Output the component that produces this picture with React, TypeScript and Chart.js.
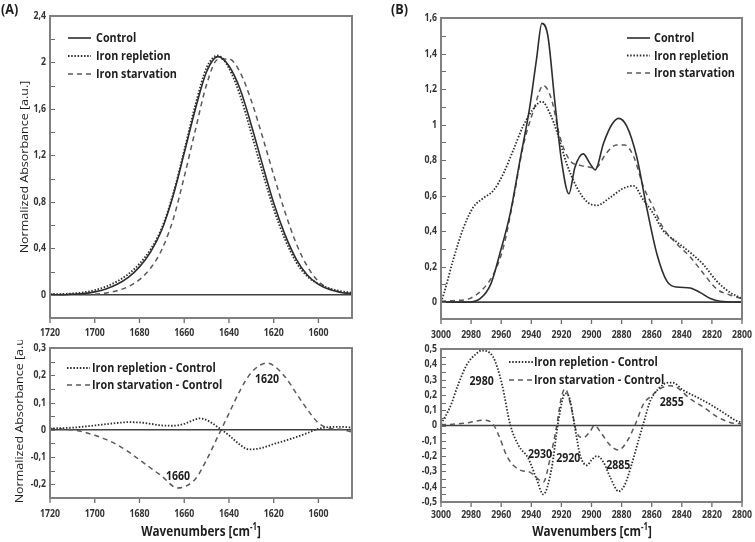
import React, { useEffect, useRef } from "react";
import { Chart, registerables } from "chart.js";
Chart.register(...registerables);

// ---------------- DATA ----------------
// Panel A (amide I region), wavenumbers in cm-1
const A_WN = [1720, 1715, 1710, 1705, 1700, 1695, 1690, 1685, 1680, 1675, 1670, 1665, 1660, 1655, 1650, 1645, 1640, 1635, 1630, 1625, 1620, 1615, 1610, 1605, 1600, 1595, 1590, 1585];
const A_CONTROL = [0, 0, 0.005, 0.01, 0.025, 0.05, 0.09, 0.15, 0.24, 0.37, 0.56, 0.85, 1.22, 1.6, 1.92, 2.05, 1.97, 1.77, 1.46, 1.12, 0.79, 0.52, 0.31, 0.17, 0.09, 0.045, 0.02, 0.01];
const A_REPLETION = [0.005, 0.006, 0.012, 0.02, 0.04, 0.07, 0.115, 0.178, 0.267, 0.392, 0.576, 0.865, 1.242, 1.635, 1.955, 2.06, 1.95, 1.715, 1.39, 1.054, 0.738, 0.48, 0.283, 0.158, 0.094, 0.055, 0.031, 0.018];
const A_STARVATION = [0.005, 0.003, 0.005, 0.002, 0.005, 0.015, 0.035, 0.07, 0.13, 0.23, 0.39, 0.645, 1.015, 1.42, 1.81, 2.025, 2.03, 1.915, 1.67, 1.36, 1.03, 0.715, 0.445, 0.245, 0.115, 0.05, 0.022, 0.005];

const A_DIFF_REP_WN = [1720, 1710, 1700, 1690, 1685, 1680, 1675, 1670, 1665, 1660, 1656, 1653, 1649, 1645, 1640, 1635, 1631, 1625, 1620, 1615, 1610, 1605, 1600, 1595, 1590, 1585];
const A_DIFF_REP = [0.005, 0.008, 0.016, 0.025, 0.028, 0.027, 0.022, 0.016, 0.015, 0.022, 0.035, 0.042, 0.032, 0.01, -0.02, -0.055, -0.072, -0.066, -0.052, -0.04, -0.027, -0.012, 0.004, 0.01, 0.011, 0.008];
const A_DIFF_STARV_WN = [1720, 1715, 1710, 1705, 1700, 1695, 1690, 1685, 1680, 1675, 1670, 1663, 1655, 1650, 1645, 1640, 1635, 1630, 1623, 1615, 1610, 1605, 1600, 1595, 1590, 1585];
const A_DIFF_STARV = [0.005, 0.003, 0, -0.008, -0.02, -0.035, -0.055, -0.08, -0.11, -0.14, -0.17, -0.213, -0.18, -0.11, -0.025, 0.06, 0.145, 0.21, 0.245, 0.195, 0.135, 0.075, 0.025, 0.005, 0.002, -0.008];

// Panel B (lipid CH region)
const B_CONTROL_WN = [3000, 2983, 2974, 2967, 2961, 2954, 2947.5, 2941, 2936.5, 2933, 2929, 2924.5, 2920, 2915, 2911, 2905.5, 2901, 2897.5, 2892, 2886.5, 2882, 2876.5, 2870, 2863.5, 2856.5, 2850, 2843.5, 2834.5, 2828, 2821, 2814.5, 2800];
const B_CONTROL = [0, 0, 0.02, 0.1, 0.27, 0.5, 0.8, 1.1, 1.37, 1.57, 1.5, 1.14, 0.8, 0.61, 0.76, 0.835, 0.78, 0.745, 0.895, 1.0, 1.035, 0.99, 0.82, 0.54, 0.27, 0.12, 0.085, 0.08, 0.055, 0.02, 0.005, 0];
const B_REPLETION_WN = [3000, 2998, 2992, 2985, 2978.5, 2972, 2965, 2958.5, 2952, 2945.5, 2938.5, 2933, 2927.5, 2923, 2916.5, 2910, 2903, 2896.5, 2887.5, 2879, 2872, 2865.5, 2859, 2852.5, 2843.5, 2834.5, 2825.5, 2817, 2808, 2800];
const B_REPLETION = [0, 0.05, 0.235, 0.42, 0.535, 0.585, 0.63, 0.725, 0.855, 0.99, 1.09, 1.13, 1.06, 0.96, 0.78, 0.65, 0.565, 0.545, 0.59, 0.64, 0.655, 0.575, 0.5, 0.405, 0.34, 0.28, 0.21, 0.12, 0.055, 0.02];
const B_STARVATION_WN = [3000, 2989.5, 2981, 2972, 2965, 2958.5, 2952, 2945.5, 2938.5, 2932, 2926.5, 2921, 2914.5, 2907.5, 2901, 2897.5, 2890, 2883.5, 2878, 2872, 2865.5, 2859, 2852.5, 2843.5, 2834.5, 2825.5, 2817, 2808, 2800];
const B_STARVATION = [0.005, 0.01, 0.02, 0.075, 0.16, 0.31, 0.575, 0.875, 1.08, 1.22, 1.14, 0.93, 0.8, 0.77, 0.76, 0.755, 0.84, 0.885, 0.885, 0.82, 0.65, 0.535, 0.42, 0.33, 0.255, 0.16, 0.075, 0.04, 0.02];

const B_DIFF_REP_WN = [3000, 2994, 2988.5, 2983, 2976.5, 2973, 2965.5, 2959.5, 2954, 2948.5, 2942, 2936.5, 2932, 2926.5, 2922, 2917.5, 2914.5, 2911, 2907.5, 2903, 2900, 2896.5, 2892, 2887.5, 2882, 2878, 2873.5, 2869, 2865, 2861, 2855.5, 2849, 2846, 2839, 2830, 2821.5, 2812.5, 2803.5, 2800];
const B_DIFF_REP = [0.01, 0.12, 0.27, 0.395, 0.47, 0.49, 0.45, 0.27, 0.005, -0.13, -0.215, -0.35, -0.45, -0.28, 0.03, 0.21, 0.175, -0.015, -0.195, -0.26, -0.225, -0.2, -0.24, -0.34, -0.43, -0.39, -0.26, -0.105, 0.03, 0.16, 0.24, 0.28, 0.28, 0.23, 0.185, 0.14, 0.085, 0.03, 0.02];
const B_DIFF_STARV_WN = [3000, 2989.5, 2981, 2972, 2965.5, 2961, 2956.5, 2952, 2946.5, 2941, 2935.5, 2932, 2927.5, 2923, 2920, 2917.5, 2913.5, 2910, 2905.5, 2901, 2898, 2893.5, 2888, 2882, 2876.5, 2871, 2865.5, 2860, 2854.5, 2848, 2843.5, 2834.5, 2825.5, 2817, 2808, 2800];
const B_DIFF_STARV = [0.005, 0.01, 0.02, 0.035, 0.01, -0.08, -0.195, -0.26, -0.295, -0.305, -0.35, -0.37, -0.215, 0.005, 0.185, 0.24, 0.12, -0.04, -0.08, -0.04, 0.0, -0.05, -0.125, -0.16, -0.105, 0.005, 0.14, 0.195, 0.24, 0.26, 0.25, 0.175, 0.12, 0.06, 0.02, 0.01];

// Tick labels
const A_X_TICKS = [1720, 1700, 1680, 1660, 1640, 1620, 1600];
const B_X_TICKS = [3000, 2980, 2960, 2940, 2920, 2900, 2880, 2860, 2840, 2820, 2800];
const A_TOP_Y_TICKS = [0, 0.4, 0.8, 1.2, 1.6, 2, 2.4];
const A_BOT_Y_TICKS = [-0.2, -0.1, 0, 0.1, 0.2, 0.3];
const B_TOP_Y_TICKS = [0, 0.2, 0.4, 0.6, 0.8, 1, 1.2, 1.4, 1.6];
const B_BOT_Y_TICKS = [-0.5, -0.4, -0.3, -0.2, -0.1, 0, 0.1, 0.2, 0.3, 0.4, 0.5];

// Peak annotations [text, wavenumber, value]
const A_NOTES: [string, number, number][] = [["1660", 1662.8, -0.17], ["1620", 1623, 0.183]];
const B_NOTES: [string, number, number][] = [["2980", 2973, 0.29], ["2930", 2934.2, -0.19], ["2920", 2915.4, -0.215], ["2885", 2882.2, -0.265], ["2855", 2846.7, 0.15]];

const Y_TITLE = "Normalized Absorbance [a.u.]";

// ---------------- STYLE ----------------
const FONT = "'Open Sans', 'Noto Sans', sans-serif";
const SQUEEZE = 0.83; // horizontal text compression seen in the reference
const STYLES: Record<string, { color: string; width: number; dash: number[] }> = {
  solid: { color: "#2e2e2e", width: 1.6, dash: [] },
  dotted: { color: "#2e2e2e", width: 1.8, dash: [1.5, 1.7] },
  dashed: { color: "#5a5a5a", width: 1.5, dash: [5, 4] },
};

type Series = { label: string; wn: number[]; values: number[]; style: string };
type Panel = {
  left: number; top: number; width: number; height: number;
  padL: number; padR: number; padT: number; padB: number;
  xMin: number; xMax: number; xTicks: number[]; xLabelOff: number;
  yMin: number; yMax: number; yTicks: number[]; yMinor: number;
  yTitlePos?: [number, number];
  series: Series[];
  legend: { x: number; y: number; sampleW: number; gap: number; rowH: number };
  notes: [string, number, number][];
};

const PANELS: Panel[] = [
  {
    left: 0, top: 0, width: 370, height: 340, padL: 50, padR: 18, padT: 16, padB: 22,
    xMin: 1585, xMax: 1720, xTicks: A_X_TICKS, xLabelOff: 15,
    yMin: -0.2, yMax: 2.4, yTicks: A_TOP_Y_TICKS, yMinor: 0.2,
    yTitlePos: [25, 167],
    series: [
      { label: "Control", wn: A_WN, values: A_CONTROL, style: "solid" },
      { label: "Iron repletion", wn: A_WN, values: A_REPLETION, style: "dotted" },
      { label: "Iron starvation", wn: A_WN, values: A_STARVATION, style: "dashed" },
    ],
    legend: { x: 18, y: 22, sampleW: 23, gap: 5, rowH: 18 },
    notes: [],
  },
  {
    left: 0, top: 340, width: 370, height: 202, padL: 50, padR: 18, padT: 8, padB: 44,
    xMin: 1585, xMax: 1720, xTicks: A_X_TICKS, xLabelOff: 16.5,
    yMin: -0.25, yMax: 0.3, yTicks: A_BOT_Y_TICKS, yMinor: 0.05,
    yTitlePos: [19.5, 77],
    series: [
      { label: "Iron repletion - Control", wn: A_DIFF_REP_WN, values: A_DIFF_REP, style: "dotted" },
      { label: "Iron starvation - Control", wn: A_DIFF_STARV_WN, values: A_DIFF_STARV, style: "dashed" },
    ],
    legend: { x: 17, y: 20, sampleW: 23, gap: 2, rowH: 17 },
    notes: A_NOTES,
  },
  {
    left: 370, top: 0, width: 385, height: 340, padL: 71, padR: 13, padT: 18, padB: 21,
    xMin: 2800, xMax: 3000, xTicks: B_X_TICKS, xLabelOff: 16,
    yMin: -0.095, yMax: 1.6, yTicks: B_TOP_Y_TICKS, yMinor: 0.1,
    series: [
      { label: "Control", wn: B_CONTROL_WN, values: B_CONTROL, style: "solid" },
      { label: "Iron repletion", wn: B_REPLETION_WN, values: B_REPLETION, style: "dotted" },
      { label: "Iron starvation", wn: B_STARVATION_WN, values: B_STARVATION, style: "dashed" },
    ],
    legend: { x: 186, y: 20, sampleW: 23, gap: 4, rowH: 17.5 },
    notes: [],
  },
  {
    left: 370, top: 340, width: 385, height: 202, padL: 71, padR: 13, padT: 9, padB: 40,
    xMin: 2800, xMax: 3000, xTicks: B_X_TICKS, xLabelOff: 13,
    yMin: -0.5, yMax: 0.5, yTicks: B_BOT_Y_TICKS, yMinor: 0.05,
    series: [
      { label: "Iron repletion - Control", wn: B_DIFF_REP_WN, values: B_DIFF_REP, style: "dotted" },
      { label: "Iron starvation - Control", wn: B_DIFF_STARV_WN, values: B_DIFF_STARV, style: "dashed" },
    ],
    legend: { x: 68, y: 13, sampleW: 24, gap: 1, rowH: 18 },
    notes: B_NOTES,
  },
];

const fmt = (v: number) => String(v).replace(".", ",");

function txt(ctx: CanvasRenderingContext2D, s: string, x: number, y: number, font: string, align: CanvasTextAlign, color: string, sx = SQUEEZE) {
  ctx.save();
  ctx.translate(x, y);
  ctx.scale(sx, 1);
  ctx.font = font;
  ctx.textAlign = align;
  ctx.textBaseline = "middle";
  ctx.fillStyle = color;
  ctx.fillText(s, 0, 0);
  ctx.restore();
}

const decoPlugin = {
  id: "panelDeco",
  beforeDatasetsDraw(chart: any) {
    const { ctx, chartArea: a, scales } = chart;
    const y0 = scales.y.getPixelForValue(0);
    ctx.save();
    ctx.strokeStyle = "#404040";
    ctx.lineWidth = 1.6;
    ctx.beginPath();
    ctx.moveTo(a.left, y0);
    ctx.lineTo(a.right, y0);
    ctx.stroke();
    ctx.restore();
  },
  afterDraw(chart: any, _a: any, opts: any) {
    const p: Panel = opts.panel;
    const { ctx, chartArea: a, scales } = chart;
    ctx.save();
    // inner ticks on the y axis
    ctx.strokeStyle = "#6a6a6a";
    ctx.lineWidth = 1;
    const start = Math.ceil(p.yMin / p.yMinor - 1e-6);
    const end = Math.floor(p.yMax / p.yMinor + 1e-6);
    for (let i = start; i <= end; i++) {
      const y = Math.round(scales.y.getPixelForValue(i * p.yMinor)) + 0.5;
      ctx.beginPath();
      ctx.moveTo(a.left, y);
      ctx.lineTo(a.left + 5, y);
      ctx.stroke();
    }
    // x ticks outside
    ctx.lineWidth = 1.3;
    for (const t of p.xTicks) {
      const x = scales.x.getPixelForValue(t);
      ctx.beginPath();
      ctx.moveTo(x, a.bottom);
      ctx.lineTo(x, a.bottom + 5);
      ctx.stroke();
    }
    // frame
    ctx.strokeStyle = "#808080";
    ctx.lineWidth = 2;
    ctx.strokeRect(a.left, a.top, a.right - a.left, a.bottom - a.top);

    // tick labels
    const tickFont = `700 10.5px ${FONT}`;
    for (const t of p.xTicks) {
      txt(ctx, String(t), scales.x.getPixelForValue(t), a.bottom + p.xLabelOff, tickFont, "center", "#333");
    }
    for (const t of p.yTicks) {
      txt(ctx, fmt(t), a.left - 4, scales.y.getPixelForValue(t), tickFont, "right", "#333");
    }
    // y-axis title
    if (p.yTitlePos) {
      ctx.save();
      ctx.translate(p.yTitlePos[0], p.yTitlePos[1]);
      ctx.rotate(-Math.PI / 2);
      ctx.scale(1, 0.88);
      ctx.font = `500 12.5px ${FONT}`;
      ctx.textAlign = "center";
      ctx.textBaseline = "middle";
      ctx.fillStyle = "#1e1e1e";
      ctx.fillText(Y_TITLE, 0, 0);
      ctx.restore();
    }

    // legend
    const L = p.legend;
    p.series.forEach((s, i) => {
      const st = STYLES[s.style];
      const y = a.top + L.y + i * L.rowH;
      ctx.strokeStyle = st.color;
      ctx.lineWidth = st.width;
      ctx.setLineDash(st.dash);
      ctx.beginPath();
      ctx.moveTo(a.left + L.x, y);
      ctx.lineTo(a.left + L.x + L.sampleW, y);
      ctx.stroke();
      ctx.setLineDash([]);
      txt(ctx, s.label, a.left + L.x + L.sampleW + L.gap, y + 0.5, `700 13px ${FONT}`, "left", "#1e1e1e");
    });
    // peak annotations
    for (const [t, w, v] of p.notes) {
      txt(ctx, t, scales.x.getPixelForValue(w), scales.y.getPixelForValue(v), `700 12px ${FONT}`, "center", "#1e1e1e", 0.88);
    }
    ctx.restore();
  },
};

function buildConfig(p: Panel): any {
  return {
    type: "line",
    data: {
      datasets: p.series.map((s) => {
        const st = STYLES[s.style];
        return {
          label: s.label,
          data: s.wn.map((x, i) => ({ x, y: s.values[i] })),
          borderColor: st.color,
          borderWidth: st.width,
          borderDash: st.dash,
          pointRadius: 0,
          fill: false,
          cubicInterpolationMode: "monotone",
        };
      }),
    },
    plugins: [decoPlugin],
    options: {
      animation: false,
      responsive: false,
      devicePixelRatio: 1,
      events: [],
      layout: { padding: { left: p.padL, right: p.padR, top: p.padT, bottom: p.padB } },
      plugins: {
        legend: { display: false },
        tooltip: { enabled: false },
        panelDeco: { panel: p },
      },
      scales: {
        x: { type: "linear", reverse: true, min: p.xMin, max: p.xMax, display: false },
        y: { type: "linear", min: p.yMin, max: p.yMax, display: false },
      },
    },
  };
}

function ChartPanel({ p }: { p: Panel }) {
  const ref = useRef<HTMLCanvasElement>(null);
  useEffect(() => {
    const chart = new Chart(ref.current as HTMLCanvasElement, buildConfig(p));
    return () => chart.destroy();
  }, [p]);
  return (
    <canvas
      ref={ref}
      width={p.width}
      height={p.height}
      style={{ position: "absolute", left: p.left, top: p.top, width: p.width, height: p.height }}
    />
  );
}

const xTitleStyle = (cx: number): React.CSSProperties => ({
  position: "absolute",
  left: cx - 110,
  width: 220,
  top: 521,
  textAlign: "center",
  font: `700 15px ${FONT}`,
  lineHeight: "18px",
  color: "#1e1e1e",
  transform: "scaleX(0.78)",
  transformOrigin: "center",
  whiteSpace: "nowrap",
});

const panelTag: React.CSSProperties = {
  position: "absolute",
  top: -1,
  font: `700 14px ${FONT}`,
  color: "#1e1e1e",
  transform: "scaleX(0.9)",
  transformOrigin: "left",
};

export default function App() {
  return (
    <div style={{ position: "absolute", left: 0, top: 0, width: 755, height: 542, background: "#fff", overflow: "hidden" }}>
      {PANELS.map((p, i) => (
        <ChartPanel key={i} p={p} />
      ))}
      <div style={{ ...panelTag, left: 1 }}>(A)</div>
      <div style={{ ...panelTag, left: 391 }}>(B)</div>
      <div style={xTitleStyle(201)}>
        Wavenumbers [cm<sup style={{ fontSize: "10px", lineHeight: 0 }}>-1</sup>]
      </div>
      <div style={xTitleStyle(592)}>
        Wavenumbers [cm<sup style={{ fontSize: "10px", lineHeight: 0 }}>-1</sup>]
      </div>
    </div>
  );
}
